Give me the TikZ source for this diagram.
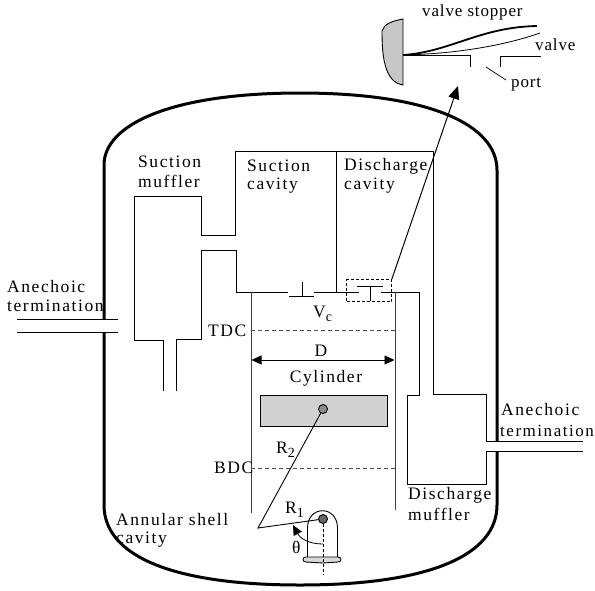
\documentclass[tikz,border=0pt]{standalone}
\usepackage{fontspec}
\setmainfont{Liberation Serif}
\newfontfamily\widefont[LetterSpace=9]{Liberation Serif}
\newfontfamily\detailfont[LetterSpace=5]{Liberation Serif}
\newcommand{\lowidx}[1]{\raisebox{-3.5pt}{\fontsize{14}{14}\selectfont #1}}
\usetikzlibrary{arrows.meta, positioning}

\begin{document}
\begin{tikzpicture}[
        x=1pt, y=-1pt,
        font=\fontsize{17.5}{19}\selectfont\widefont,
        lab/.style={inner sep=0pt, anchor=west},
        detail/.style={lab, font=\fontsize{17}{19}\selectfont\detailfont},
        wall/.style={line width=0.9pt},
        shell/.style={line width=3pt},
        level/.style={line width=0.8pt, black!70, dash pattern=on 4pt off 3pt},
        >={Triangle[length=10pt, width=9pt]}
      ]
        \useasboundingbox (0,0) rectangle (595,590);

        % shell
        \draw[shell] (104,319) -- (104,165) .. controls (104,125) and (170,93) .. (300,93)
            .. controls (430,93) and (497,125) .. (497,170) -- (497,441);
        \draw[shell] (104,333) -- (104,505) .. controls (104,555) and (170,585) .. (300,585)
            .. controls (430,585) and (497,555) .. (497,505) -- (497,451);

        % terminations
        \draw[wall] (17,319.5) -- (118,319.5);
        \draw[wall] (17,332) -- (118,332);

        % suction side
        \draw[wall] (163,391) -- (163,340) -- (134,340) -- (134,196) -- (201,196) -- (201,235)
            -- (235,235) -- (235,151) -- (433,151) -- (433,394) -- (486,394) -- (486,441) -- (583,441);
        \draw[wall] (176,391) -- (176,339) -- (201,339) -- (201,250) -- (236,250) -- (236,292) -- (288,292);
        \draw[wall] (314,292) -- (359,292);
        \draw[wall] (381,292) -- (419,292) -- (419,395) -- (407,395) -- (407,484) -- (486,484)
            -- (486,451) -- (583,451);
        \draw[wall] (336,151) -- (336,292);

        % cylinder
        \draw[wall, black!75] (251,292) -- (251,513);
        \draw[wall, black!75] (395,292) -- (395,510);
        \coordinate (tdcL) at (251,330);
        \coordinate (tdcR) at (395,330);
        \coordinate (bdcL) at (251,468);
        \coordinate (bdcR) at (395,468);
        \draw[level] (tdcL) -- (tdcR);
        \draw[level] (bdcL) -- (bdcR);
        \coordinate (boreL) at (251.5,360);
        \coordinate (boreR) at (394.5,360);
        \draw[<->, wall] (boreL) -- (boreR);
        \node[draw, wall, fill=black!18, minimum width=127pt, minimum height=31pt, inner sep=0pt] (piston) at (323.5,410.5) {};

        % suction and discharge valves
        \draw[wall] (289,296.5) -- (314,296.5);
        \draw[wall] (302,282) -- (302,296.5);
        \draw[wall] (357,286) -- (383,286);
        \draw[wall] (370,286) -- (370,301);
        \node[draw, densely dashed, line width=0.7pt, minimum width=45pt, minimum height=22pt, inner sep=0pt] (vbox) at (369,290.5) {};

        % valve detail
        \draw[wall, fill=black!22] (403,19) .. controls (392,21) and (384,24) .. (382,31)
            .. controls (382,55) and (384,82) .. (403,85) -- cycle;
        \draw[line width=1.8pt] (403,55) .. controls (450,52) and (480,27) .. (537,26);
        \draw[line width=0.8pt] (403,55) .. controls (450,54) and (500,47) .. (540,33);
        \draw[wall] (403,55.5) -- (470,55.5) -- (470,67);
        \draw[wall] (500,67) -- (500,56.5) -- (541,56.5);
        \draw[line width=0.7pt] (486,67) -- (506,80);
        \coordinate (detailTip) at (458,86);
        \draw[-{Triangle[length=13pt, width=11pt]}, line width=1pt] (vbox.north east) -- (detailTip);

        % crank
        \node[circle, draw, wall, fill=black!60, minimum size=9pt, inner sep=0pt] (crank) at (323,519) {};
        \node[circle, draw, wall, fill=black!45, minimum size=9pt, inner sep=0pt] (pin) at (323,409) {};
        \draw[wall] (307.5,557) -- (307.5,528) .. controls (307.5,505) and (337.5,505) .. (337.5,528) -- (337.5,557);
        \draw[wall, fill=black!15] (306,557) .. controls (302,557) and (302,562) .. (306,562)
            -- (323,563) -- (338,562) .. controls (342,562) and (342,557) .. (338,557) -- cycle;
        \draw[line width=0.7pt, densely dashed] (crank) -- (323,574);
        \coordinate (apex) at (258,528);
        \draw[wall] (pin) -- (apex) -- (crank);
        \draw[<-, line width=0.8pt] (293,525) .. controls (300,538) and (308,544) .. (323,544);

        % labels
        \node[detail] (valveStopper) at (422,12) {valve stopper};
        \node[detail] (valveLab) at (535,45) {valve};
        \node[detail] (portLab) at (511,85) {port};
        \node[lab] (suctionMuffler) at (138,162) {Suction};
        \node[lab] (suctionMuffler2) at (138,181) {muffler};
        \node[lab] (suctionCavity) at (247,166) {Suction};
        \node[lab] (suctionCavity2) at (247,186) {cavity};
        \node[lab] (dischargeCavity) at (344,166) {Discharge};
        \node[lab] (dischargeCavity2) at (344,186) {cavity};
        \node[lab] (termL) at (7,287) {Anechoic};
        \node[lab] (termL2) at (7,306) {termination};
        \node[lab] (termR) at (501,410) {Anechoic};
        \node[lab, font=\fontsize{17}{19}\selectfont\widefont] (termR2) at (500,431) {termination};
        \node[lab] (tdcLab) at (208,331) {TDC};
        \node[lab] (bdcLab) at (214,468) {BDC};
        \node[lab] (vcLab) at (313,314) {V\lowidx{c}};
        \node (dLab) at (321,351) {D};
        \node (cylLab) at (326,378) {Cylinder};
        \node[lab] (r2Lab) at (276,450) {R\lowidx{2}};
        \node[lab] (r1Lab) at (285,510) {R\lowidx{1}};
        \node[lab] (thetaLab) at (292,547) {θ};
        \node[lab] (dischargeMuffler) at (408,495) {Discharge};
        \node[lab] (dischargeMuffler2) at (408,514) {muffler};
        \node[lab] (annular) at (116,520) {Annular shell};
        \node[lab] (annular2) at (116,540) {cavity};
    \end{tikzpicture}
\end{document}
